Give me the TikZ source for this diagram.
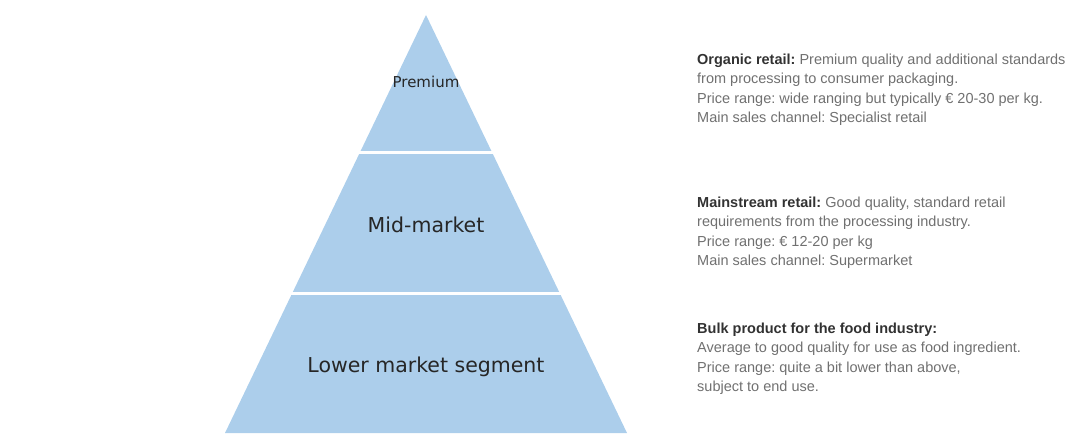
\documentclass[tikz,border=0pt]{standalone}
\usepackage{fontspec}
\setmainfont{Liberation Sans}
\newfontfamily\tierfont{DejaVu Sans}
\usepackage{xcolor}
\usepackage{tikz}
\usetikzlibrary{positioning}

\definecolor{pyrblue}{RGB}{172,206,235}
\definecolor{bodygray}{RGB}{112,112,112}
\definecolor{headgray}{RGB}{50,50,50}
\frenchspacing

\begin{document}
\begin{tikzpicture}[x=1pt,y=-1pt,
  tier/.style={text=black!85,anchor=base,inner sep=0pt},
  desc/.style={font=\fontsize{14.5}{19.5}\selectfont,text=bodygray,align=left,anchor=north west,inner sep=0pt}]
  \useasboundingbox (0,0) rectangle (1075,441);
  % Pyramid body
  \coordinate (apex) at (426,15);
  \coordinate (baseL) at (225,433);
  \coordinate (baseR) at (627,433);
  \fill[pyrblue] (apex) -- (baseR) -- (baseL) -- cycle;
  % White gaps between the tiers
  \draw[white,line width=3pt] (355,152) -- (497,152);
  \draw[white,line width=3pt] (287,293) -- (565,293);
  % Tier labels
  \node[tier,font=\tierfont\fontsize{15}{18}\selectfont] (premium) at (426,88) {Premium};
  \node[tier,font=\tierfont\fontsize{20.5}{24}\selectfont] (mid) at (426,232) {Mid-market};
  \node[tier,font=\tierfont\fontsize{20.5}{24}\selectfont] (lower) at (426,372) {Lower market segment};
  % Descriptions
  \node[desc] (organic) at (697,53.5) {\textcolor{headgray}{\textbf{Organic retail:}} Premium quality and additional standards\\
    from processing to consumer packaging.\\
    Price range: wide ranging but typically € 20-30 per kg.\\
    Main sales channel: Specialist retail};
  \node[desc] (mainstream) at (697,196.5) {\textcolor{headgray}{\textbf{Mainstream retail:}} Good quality, standard retail\\
    requirements from the processing industry.\\
    Price range: € 12-20 per kg\\
    Main sales channel: Supermarket};
  \node[desc] (bulk) at (697,322.5) {\textcolor{headgray}{\textbf{Bulk product for the food industry:}}\\
    Average to good quality for use as food ingredient.\\
    Price range: quite a bit lower than above,\\
    subject to end use.};
\end{tikzpicture}
\end{document}
